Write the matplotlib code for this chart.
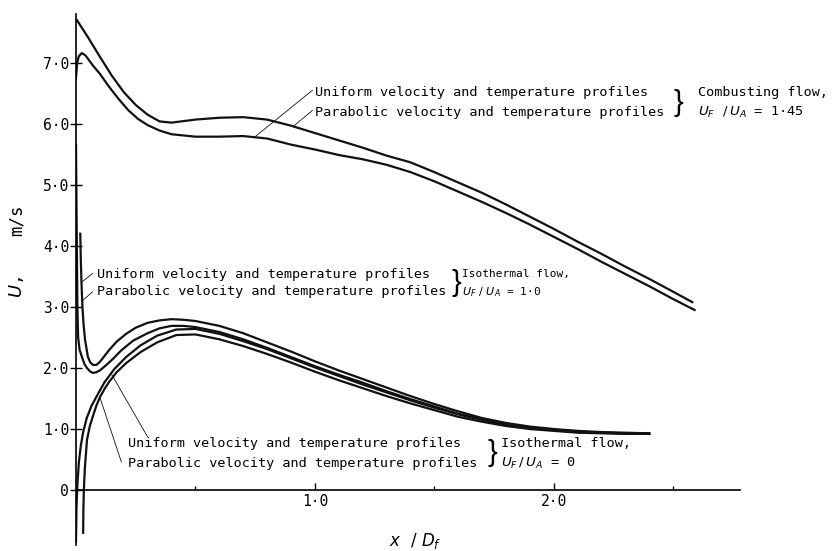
import numpy as np
import matplotlib.pyplot as plt

plt.rcParams['font.family'] = ['DejaVu Sans Mono']

# combusting flow, U_F/U_A = 1.45
comb_par_x = [0.004, 0.05, 0.10, 0.15, 0.20, 0.25, 0.30, 0.35, 0.40, 0.50, 0.60, 0.70, 0.80, 0.90,
              1.00, 1.10, 1.20, 1.30, 1.40, 1.50, 1.60, 1.70, 1.80, 1.90, 2.00, 2.10, 2.20, 2.30,
              2.40, 2.50, 2.58]
comb_par_y = [7.70, 7.42, 7.10, 6.79, 6.52, 6.31, 6.15, 6.04, 6.02, 6.07, 6.10, 6.11, 6.07, 5.97,
              5.85, 5.73, 5.61, 5.48, 5.37, 5.21, 5.04, 4.87, 4.68, 4.48, 4.28, 4.07, 3.87, 3.66,
              3.46, 3.25, 3.08]
comb_uni_x = [0.0, 0.005, 0.012, 0.025, 0.04, 0.07, 0.10, 0.14, 0.18, 0.22, 0.26, 0.30, 0.35, 0.40,
              0.50, 0.60, 0.70, 0.80, 0.90, 1.00, 1.10, 1.20, 1.30, 1.40, 1.50, 1.60, 1.70, 1.80,
              1.90, 2.00, 2.10, 2.20, 2.30, 2.40, 2.50, 2.59]
comb_uni_y = [6.75, 7.00, 7.11, 7.16, 7.12, 6.96, 6.82, 6.60, 6.40, 6.22, 6.08, 5.98, 5.89, 5.83,
              5.79, 5.79, 5.80, 5.76, 5.66, 5.58, 5.49, 5.42, 5.33, 5.21, 5.06, 4.89, 4.72, 4.54,
              4.35, 4.15, 3.95, 3.74, 3.54, 3.34, 3.13, 2.95]

# isothermal flow, U_F/U_A = 1.0
iso1_uni_x = [0.018, 0.020, 0.023, 0.027, 0.032, 0.038, 0.05, 0.06, 0.071, 0.085, 0.10, 0.12, 0.14,
              0.17, 0.21, 0.25, 0.30, 0.35, 0.40, 0.45, 0.50, 0.60, 0.70, 0.80, 0.90, 1.00, 1.10,
              1.20, 1.30, 1.40, 1.50, 1.60, 1.70, 1.80, 1.90, 2.00, 2.10, 2.20, 2.30, 2.40]
iso1_uni_y = [4.20, 3.80, 3.40, 3.00, 2.70, 2.46, 2.18, 2.09, 2.05, 2.05, 2.10, 2.20, 2.30,
              2.43, 2.56, 2.66, 2.74, 2.78, 2.80, 2.79, 2.77, 2.69, 2.57, 2.42, 2.27, 2.11, 1.96,
              1.82, 1.68, 1.54, 1.41, 1.29, 1.18, 1.10, 1.04, 1.00, 0.97, 0.95, 0.94, 0.93]
iso1_par_x = [0.000, 0.002, 0.004, 0.006, 0.009, 0.015, 0.025, 0.035, 0.046, 0.06, 0.071, 0.085,
              0.10, 0.13, 0.155, 0.19, 0.24, 0.30, 0.35, 0.40, 0.45, 0.50, 0.60, 0.70, 0.80, 0.90,
              1.00, 1.10, 1.20, 1.30, 1.40, 1.50, 1.60, 1.70, 1.80, 1.90, 2.00, 2.10, 2.20, 2.30, 2.40]
iso1_par_y = [5.65, 4.70, 3.80, 3.00, 2.50, 2.30, 2.18, 2.07, 2.00, 1.94, 1.92, 1.93,
              1.96, 2.06, 2.15, 2.29, 2.45, 2.57, 2.65, 2.69, 2.69, 2.67, 2.59, 2.47, 2.33, 2.18,
              2.03, 1.89, 1.76, 1.62, 1.49, 1.37, 1.25, 1.16, 1.08, 1.03, 0.99, 0.96, 0.94, 0.93, 0.93]

# isothermal flow, U_F/U_A = 0
iso0_uni_x = [0.000, 0.002, 0.006, 0.012, 0.020, 0.030, 0.045, 0.065, 0.09, 0.12, 0.16, 0.21, 0.27,
              0.34, 0.42, 0.50, 0.60, 0.70, 0.80, 0.90, 1.00, 1.10, 1.20, 1.30, 1.40, 1.50, 1.60,
              1.70, 1.80, 1.90, 2.00, 2.10, 2.20, 2.30, 2.40]
iso0_uni_y = [-0.85, -0.30, 0.10, 0.45, 0.72, 0.95, 1.18, 1.38, 1.56, 1.77, 1.98, 2.18, 2.37,
              2.53, 2.63, 2.64, 2.56, 2.44, 2.31, 2.16, 2.01, 1.87, 1.73, 1.60, 1.47, 1.35, 1.24,
              1.15, 1.07, 1.02, 0.98, 0.95, 0.94, 0.93, 0.92]
iso0_par_x = [0.030, 0.031, 0.033, 0.037, 0.046, 0.058, 0.07, 0.085, 0.10, 0.12, 0.14, 0.17, 0.21,
              0.27, 0.34, 0.42, 0.50, 0.60, 0.70, 0.80, 0.90, 1.00, 1.10, 1.20, 1.30, 1.40, 1.50,
              1.60, 1.70, 1.80, 1.90, 2.00, 2.10, 2.20, 2.30, 2.40]
iso0_par_y = [-0.70, -0.30, 0.00, 0.35, 0.82, 1.05, 1.20, 1.38, 1.52, 1.66, 1.78, 1.93, 2.08,
              2.26, 2.42, 2.54, 2.55, 2.47, 2.36, 2.23, 2.09, 1.94, 1.80, 1.67, 1.54, 1.42, 1.31,
              1.20, 1.12, 1.05, 1.00, 0.97, 0.94, 0.93, 0.92, 0.92]

y_ticks = [0, 1, 2, 3, 4, 5, 6, 7]
y_tick_labels = ['0', '1·0', '2·0', '3·0', '4·0', '5·0', '6·0', '7·0']
x_ticks = [1.0, 2.0]
x_tick_labels = ['1·0', '2·0']
x_minor = [0.5, 1.5, 2.5]

profile_uni = 'Uniform velocity and temperature profiles'
profile_par = 'Parabolic velocity and temperature profiles'

ink = '#111111'

fig = plt.figure(figsize=(8.35, 5.51), dpi=100)
ax = fig.add_axes([0.0910, 0.0109, 0.7952, 0.9637])

for xs, ys in [(comb_par_x, comb_par_y), (comb_uni_x, comb_uni_y),
               (iso1_uni_x, iso1_uni_y), (iso1_par_x, iso1_par_y),
               (iso0_uni_x, iso0_uni_y), (iso0_par_x, iso0_par_y)]:
    ax.plot(xs, ys, color=ink, lw=1.6, solid_joinstyle='round')

ax.set_xlim(0, 2.78)
ax.set_ylim(-0.9, 7.8)

for s in ['top', 'right']:
    ax.spines[s].set_visible(False)
ax.spines['bottom'].set_position(('data', 0))
ax.spines['bottom'].set_linewidth(1.2)
ax.spines['left'].set_linewidth(1.2)

ax.set_yticks(y_ticks)
ax.set_yticklabels(y_tick_labels)
ax.set_xticks(x_ticks)
ax.set_xticklabels(x_tick_labels)
ax.set_xticks(x_minor, minor=True)
ax.tick_params(axis='y', direction='inout', length=8, width=1, pad=1, labelsize=10.5)
ax.tick_params(axis='x', which='major', direction='in', length=5, width=1, pad=3, labelsize=10.5)
ax.tick_params(axis='x', which='minor', direction='in', length=3, width=1)

# axis titles
fig.text(17 / 835, 1 - 220 / 551, 'm/s', rotation=90, ha='center', va='center', fontsize=12.5)
fig.text(17 / 835, 1 - 287 / 551, r'$U$,', rotation=90, ha='center', va='center', fontsize=13)
fig.text(415 / 835, 1 - 541 / 551, r'$x\ \ /\ D_f$', ha='center', va='center', fontsize=12)

lead = dict(arrowstyle='-', lw=0.6, color=ink, shrinkA=0, shrinkB=0)
fs = 9.7

# combusting labels
ax.text(1.00, 6.51, profile_uni, fontsize=fs, va='center')
ax.text(1.00, 6.18, profile_par, fontsize=fs, va='center')
ax.annotate('', xy=(0.75, 5.79), xytext=(0.99, 6.55), arrowprops=lead)
ax.annotate('', xy=(0.91, 5.96), xytext=(0.99, 6.22), arrowprops=lead)
ax.text(2.522, 6.34, '}', fontsize=21, ha='center', va='center', family='Liberation Sans')
ax.text(2.603, 6.51, 'Combusting flow,', fontsize=fs, va='center')
ax.text(2.603, 6.18, r'$U_F\ \ /\,U_A$ = 1·45', fontsize=fs, va='center')

# isothermal U_F/U_A = 1.0 labels
ax.text(0.088, 3.54, profile_uni, fontsize=fs, va='center')
ax.text(0.088, 3.25, profile_par, fontsize=fs, va='center')
ax.annotate('', xy=(0.025, 3.41), xytext=(0.07, 3.55), arrowprops=lead)
ax.annotate('', xy=(0.029, 3.11), xytext=(0.07, 3.25), arrowprops=lead)
ax.text(1.592, 3.39, '}', fontsize=21, ha='center', va='center', family='Liberation Sans')
ax.text(1.618, 3.54, 'Isothermal flow,', fontsize=8, va='center')
ax.text(1.618, 3.25, r'$U_F\ /\ U_A$ = 1·0', fontsize=8, va='center')

# isothermal U_F/U_A = 0 labels
ax.text(0.218, 0.77, profile_uni, fontsize=fs, va='center')
ax.text(0.218, 0.44, profile_par, fontsize=fs, va='center')
ax.annotate('', xy=(0.15, 1.89), xytext=(0.30, 0.87), arrowprops=lead)
ax.annotate('', xy=(0.10, 1.52), xytext=(0.19, 0.46), arrowprops=lead)
ax.text(1.745, 0.61, '}', fontsize=21, ha='center', va='center', family='Liberation Sans')
ax.text(1.78, 0.77, 'Isothermal flow,', fontsize=fs, va='center')
ax.text(1.78, 0.44, r'$U_F\,/\,U_A$ = 0', fontsize=fs, va='center')

fig.savefig('out.png', dpi=100)
